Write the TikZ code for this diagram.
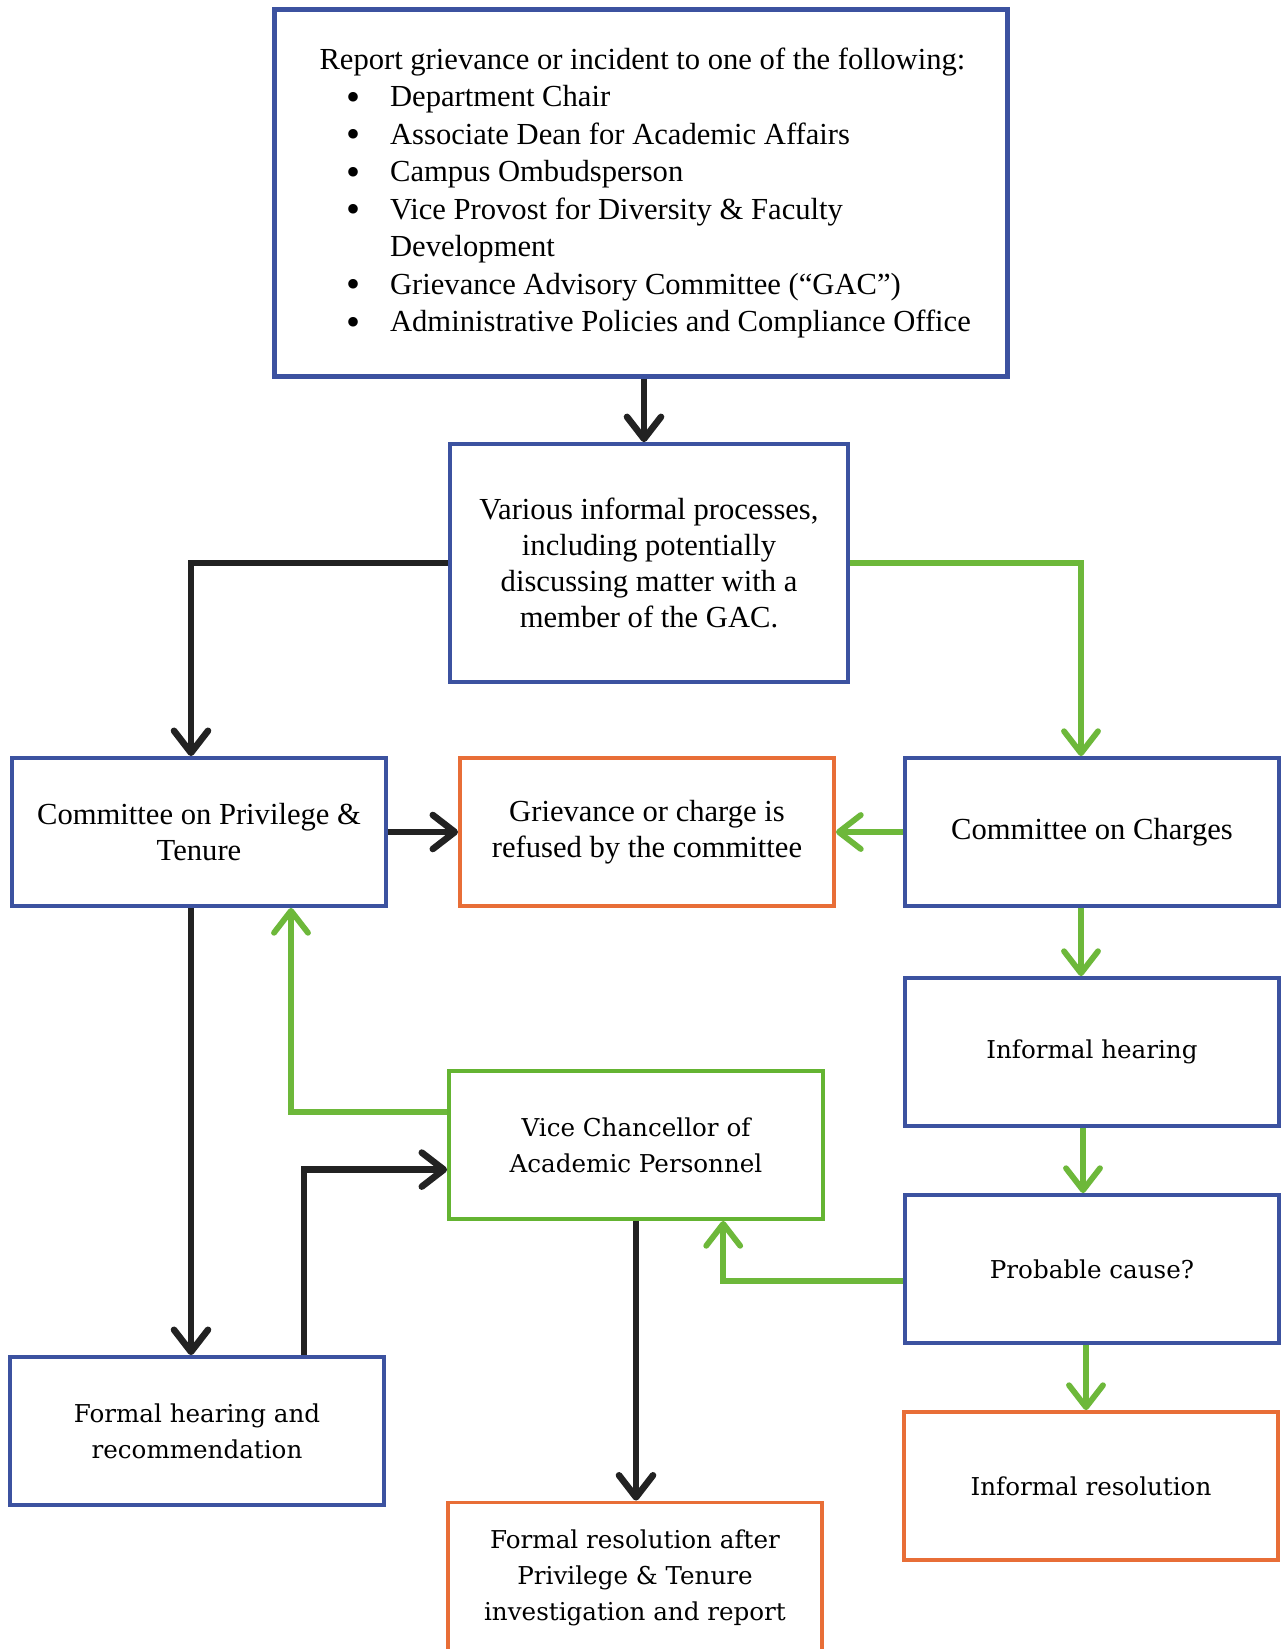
\documentclass[tikz,border=0pt]{standalone}
\usepackage{fontspec}
\setmainfont{Liberation Serif}
\newfontfamily\centfont{DejaVu Serif}
\usetikzlibrary{arrows.meta}
\definecolor{bblue}{HTML}{3C52A0}
\definecolor{borange}{HTML}{E86E37}
\definecolor{bgreen}{HTML}{64B432}
\definecolor{agreen}{HTML}{6DB83A}
\definecolor{ablack}{HTML}{222222}
\newcommand\bulitem{\hspace*{13.3pt}\makebox[22pt][l]{\smash{\raisebox{-1.8pt}{\fontsize{20pt}{15pt}\selectfont\textbullet}}}}
\tikzset{
  box/.style={draw=bblue, line width=1.9pt, minimum width=187pt, minimum height=74pt,
    inner sep=4pt, align=center, font=\fontsize{15.3pt}{17.9pt}\selectfont},
  cbox/.style={box, font=\centfont\fontsize{12.3pt}{17.9pt}\selectfont},
  orangebox/.style={draw=borange},
  greenbox/.style={draw=bgreen},
  blk/.style={draw=ablack, line width=3.3pt, -{Straight Barb[length=11pt,width=17pt,round]}},
  grn/.style={draw=agreen, line width=2.9pt, -{Straight Barb[length=11pt,width=17pt,round]}},
}
\begin{document}
\begin{tikzpicture}[x=0.5pt,y=-0.5pt]
\useasboundingbox (0,0) rectangle (1281,1649);
\fill[white] (0,0) rectangle (1281,1649);

\node[box, line width=2.2pt, minimum width=366.5pt, minimum height=183.5pt, inner sep=0pt,
  font=\fontsize{15.3pt}{18.75pt}\selectfont] (report) at (641,193)
  {\raisebox{-1.5pt}{\makebox[321.5pt][l]{\begin{tabular}{@{}l@{}}
   Report grievance or incident to one of the following:\\
   \bulitem Department Chair\\
   \bulitem Associate Dean for Academic Affairs\\
   \bulitem Campus Ombudsperson\\
   \bulitem Vice Provost for Diversity \& Faculty\\
   \hspace*{35.3pt}Development\\
   \bulitem Grievance Advisory Committee (“GAC”)\\
   \bulitem Administrative Policies and Compliance Office
   \end{tabular}}}};

\node[box, minimum width=198.8pt, minimum height=118.9pt] (various) at (649,563)
  {Various informal processes,\\including potentially\\discussing matter with a\\member of the GAC.};

\node[box] (cpt) at (199,832) {Committee on Privilege \&\\Tenure};
\node[box, orangebox] (refused) at (647,832) {Grievance or charge is\\refused by the committee};
\node[box] (coc) at (1092,832) {Committee on Charges};
\node[cbox] (ih) at (1092,1052) {Informal hearing};
\node[cbox, greenbox] (vc) at (636,1145) {Vice Chancellor of\\Academic Personnel};
\node[cbox] (pc) at (1092,1269) {Probable cause?};
\node[cbox] (fh) at (197,1431) {Formal hearing and\\recommendation};
\node[cbox, orangebox] (ir) at (1091,1486) {Informal resolution};
\node[cbox, orangebox, minimum height=75.5pt] (fr) at (635,1578)
  {Formal resolution after\\Privilege \& Tenure\\investigation and report};

\draw[blk] ([xshift=1.5pt]report.south) -- ([xshift=1.5pt]report.south |- various.north);
\draw[blk] (various.west) -| ([xshift=-4pt]cpt.north);
\draw[grn] (various.east) -| ([xshift=-5.5pt]coc.north);
\draw[blk] (cpt) -- (refused);
\draw[grn] (coc) -- (refused);
\draw[blk] ([xshift=-4pt]cpt.south) -- ([xshift=-4pt]cpt.south |- fh.north);
\draw[blk] ([xshift=53.5pt]fh.north) |- ([yshift=-12.3pt]vc.west);
\draw[grn] ([yshift=16.6pt]vc.west) -| ([xshift=46pt]cpt.south);
\draw[blk] (vc.south) -- (vc.south |- fr.north);
\draw[grn] ([xshift=-5.5pt]coc.south) -- ([xshift=-5.5pt]coc.south |- ih.north);
\draw[grn] ([xshift=-4.5pt]ih.south) -- ([xshift=-4.5pt]ih.south |- pc.north);
\draw[grn] ([xshift=-3pt]pc.south) -- ([xshift=-3pt]pc.south |- ir.north);
\draw[grn] ([yshift=-6pt]pc.west) -| ([xshift=43.6pt]vc.south);
\end{tikzpicture}
\end{document}
